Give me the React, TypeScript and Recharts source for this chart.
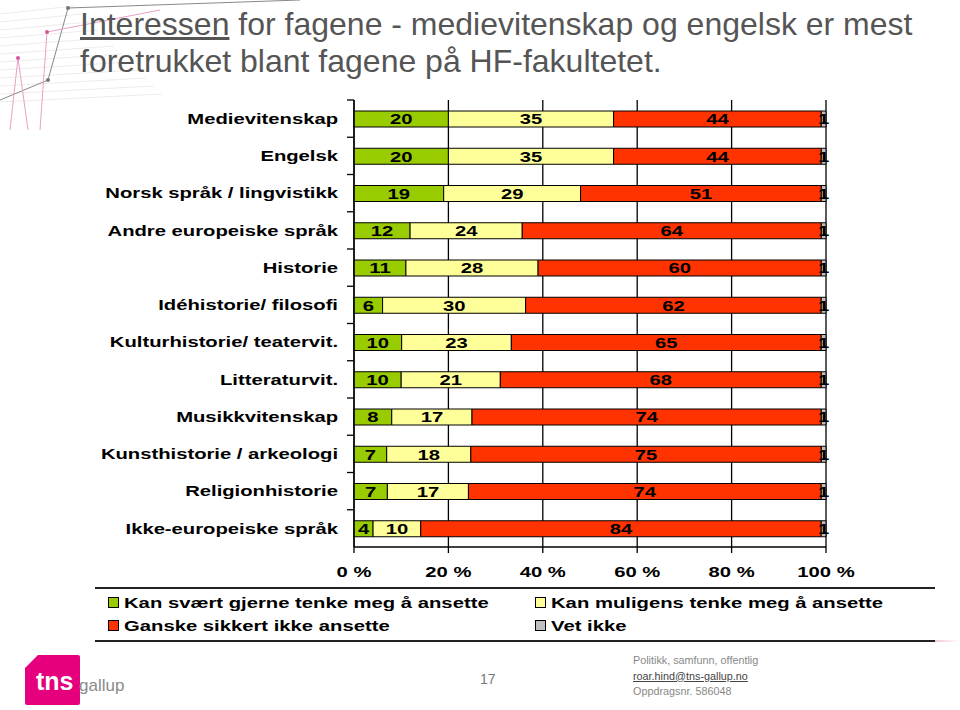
import React from "react";
import { Bar, BarChart, XAxis, YAxis, CartesianGrid, LabelList, Legend } from "recharts";

const categories = [
  "Medievitenskap",
  "Engelsk",
  "Norsk språk / lingvistikk",
  "Andre europeiske språk",
  "Historie",
  "Idéhistorie/ filosofi",
  "Kulturhistorie/ teatervit.",
  "Litteraturvit.",
  "Musikkvitenskap",
  "Kunsthistorie / arkeologi",
  "Religionhistorie",
  "Ikke-europeiske språk",
];

const kanSvaert = [20, 20, 19, 12, 11, 6, 10, 10, 8, 7, 7, 4];
const kanMuligens = [35, 35, 29, 24, 28, 30, 23, 21, 17, 18, 17, 10];
const ganskeSikkert = [44, 44, 51, 64, 60, 62, 65, 68, 74, 75, 74, 84];
const vetIkke = [1, 1, 1, 1, 1, 1, 1, 1, 1, 1, 1, 1];

const xTicks = [0, 0.2, 0.4, 0.6, 0.8, 1];

const seriesNames = [
  "Kan svært gjerne tenke meg å ansette",
  "Kan muligens tenke meg å ansette",
  "Ganske sikkert ikke ansette",
  "Vet ikke",
];

const data = categories.map((name, i) => ({
  name,
  a: kanSvaert[i],
  b: kanMuligens[i],
  c: ganskeSikkert[i],
  d: vetIkke[i],
}));

const W = 960;
const H = 710;
const PLOT_LEFT = 354;
const PLOT_RIGHT = 826;
const PLOT_TOP = 100;
const PLOT_BOTTOM = 547;
const X_AXIS_H = 30;
const FONT = "Arial, 'Liberation Sans', sans-serif";
// the original chart image is stretched sideways
const STRETCH = 1.35;

const bandHalf = (PLOT_BOTTOM - PLOT_TOP) / categories.length / 2;

function CategoryTick(props: any) {
  const { x, y, payload } = props;
  return (
    <g>
      <line x1={PLOT_LEFT - 7} x2={PLOT_LEFT} y1={y - bandHalf} y2={y - bandHalf} stroke="#000" strokeWidth={1.3} />
      <text
        transform={`translate(${x},${y}) scale(${STRETCH},1)`}
        dy="0.35em"
        textAnchor="end"
        fontSize={15}
        fontWeight="bold"
        fill="#000"
        fontFamily={FONT}
      >
        {payload.value}
      </text>
    </g>
  );
}

function PercentTick(props: any) {
  const { x, y, payload } = props;
  return (
    <text
      transform={`translate(${x},${y}) scale(${STRETCH},1)`}
      dy="0.71em"
      textAnchor="middle"
      fontSize={15}
      fontWeight="bold"
      fill="#000"
      fontFamily={FONT}
    >
      {`${Math.round(payload.value * 100)} %`}
    </text>
  );
}

function renderLabel(props: any) {
  const { x, y, width, height, value } = props;
  return (
    <text
      transform={`translate(${x + width / 2},${y + height / 2}) scale(${STRETCH},1)`}
      dy="0.36em"
      textAnchor="middle"
      fontSize={15}
      fontWeight="bold"
      fill="#000"
      fontFamily={FONT}
    >
      {value}
    </text>
  );
}

function LegendBox(props: any) {
  const payload = [...(props.payload || [])].sort(
    (p: any, q: any) => seriesNames.indexOf(p.value) - seriesNames.indexOf(q.value)
  );
  return (
    <div
      style={{
        display: "grid",
        gridTemplateColumns: "427px 400px",
        rowGap: 3,
        padding: "3px 0 0 13px",
        fontFamily: FONT,
        fontSize: 15,
        fontWeight: "bold",
        color: "#000",
      }}
    >
      {payload.map((p: any) => (
        <div key={p.value} style={{ display: "flex", alignItems: "center", height: 20, whiteSpace: "nowrap" }}>
          <span
            style={{
              display: "inline-block",
              width: 9,
              height: 9,
              background: p.color,
              border: "1px solid #000",
              marginRight: 5,
              flex: "none",
            }}
          />
          <span style={{ display: "inline-block", transform: `scaleX(${STRETCH})`, transformOrigin: "left center" }}>
            {p.value}
          </span>
        </div>
      ))}
    </div>
  );
}

export default function App() {
  return (
    <div style={{ position: "absolute", left: 0, top: 0, width: W, height: H, background: "#fff", overflow: "hidden" }}>
      {/* corner decoration */}
      <svg width={320} height={130} style={{ position: "absolute", left: 0, top: 0 }}>
        <g stroke="#ececec" strokeWidth={1}>
          {[14, 22, 30, 38, 46, 54, 62, 70, 78, 86, 94, 102].map((yy) => (
            <line key={yy} x1={0} x2={60 + yy} y1={yy} y2={yy - 8} />
          ))}
        </g>
        <polyline points="0,100 48,80 68,8 300,0" fill="none" stroke="#888" strokeWidth={1} />
        <polyline points="10,130 18,58 28,130" fill="none" stroke="#e8a0c4" strokeWidth={1} />
        <polyline points="40,130 47,32 160,10" fill="none" stroke="#e8a0c4" strokeWidth={1} />
        <circle cx={47} cy={32} r={2} fill="#d6559a" />
        <circle cx={18} cy={58} r={2} fill="#d6559a" />
        <circle cx={68} cy={8} r={2} fill="#777" />
        <circle cx={48} cy={80} r={2} fill="#777" />
      </svg>

      <div
        style={{
          position: "absolute",
          left: 80,
          top: 6,
          fontFamily: FONT,
          fontSize: 32,
          lineHeight: "37px",
          color: "#555",
          whiteSpace: "nowrap",
        }}
      >
        <span style={{ textDecoration: "underline" }}>Interessen</span> for fagene - medievitenskap og engelsk er mest
        <br />
        foretrukket blant fagene på HF-fakultetet.
      </div>

      <div style={{ position: "absolute", left: 0, top: 0 }}>
        <BarChart
          width={W}
          height={H}
          data={data}
          layout="vertical"
          stackOffset="expand"
          barSize={16}
          margin={{ top: PLOT_TOP, bottom: H - PLOT_BOTTOM - X_AXIS_H, left: 0, right: W - PLOT_RIGHT }}
        >
          <CartesianGrid horizontal={false} vertical stroke="#000" strokeWidth={1.3} />
          <XAxis
            type="number"
            domain={[0, 1]}
            ticks={xTicks}
            height={X_AXIS_H}
            stroke="#000"
            strokeWidth={1.3}
            tickSize={6}
            tickMargin={13}
            tick={<PercentTick />}
          />
          <YAxis
            type="category"
            dataKey="name"
            width={PLOT_LEFT}
            stroke="#000"
            strokeWidth={1.3}
            tickLine={false}
            tickSize={6}
            tickMargin={10}
            tick={<CategoryTick />}
            interval={0}
          />
          <Legend
            layout="horizontal"
            verticalAlign="middle"
            align="center"
            content={<LegendBox />}
            wrapperStyle={{
              position: "absolute",
              left: 95,
              top: 587,
              width: 840,
              height: 55,
              borderTop: "2px solid #222",
              borderBottom: "2px solid #222",
              boxSizing: "border-box",
            }}
          />
          <Bar dataKey="a" name={seriesNames[0]} stackId="s" fill="#99CC00" stroke="#000" strokeWidth={1} isAnimationActive={false}>
            <LabelList dataKey="a" content={renderLabel} />
          </Bar>
          <Bar dataKey="b" name={seriesNames[1]} stackId="s" fill="#FFFF99" stroke="#000" strokeWidth={1} isAnimationActive={false}>
            <LabelList dataKey="b" content={renderLabel} />
          </Bar>
          <Bar dataKey="c" name={seriesNames[2]} stackId="s" fill="#FF3300" stroke="#000" strokeWidth={1} isAnimationActive={false}>
            <LabelList dataKey="c" content={renderLabel} />
          </Bar>
          <Bar dataKey="d" name={seriesNames[3]} stackId="s" fill="#C0C0C0" stroke="#000" strokeWidth={1} isAnimationActive={false}>
            <LabelList dataKey="d" content={renderLabel} />
          </Bar>
        </BarChart>
      </div>

      {/* footer */}
      <div
        style={{
          position: "absolute",
          left: 935,
          top: 640,
          width: 25,
          height: 2,
          background: "linear-gradient(90deg, #f3c6dc, #fff)",
        }}
      />
      <svg width={130} height={60} style={{ position: "absolute", left: 0, top: 650 }}>
        <path d="M38,5 L78,5 Q80,5 80,7 L80,53 Q80,55 78,55 L27,55 Q25,55 25,53 L25,18 Z" fill="#E6007E" />
        <text x={36} y={40} fontFamily={FONT} fontWeight="bold" fontSize={25} fill="#fff">
          tns
        </text>
        <text x={79} y={41} fontFamily={FONT} fontSize={17} fill="#8a8a8a">
          gallup
        </text>
      </svg>
      <div style={{ position: "absolute", left: 480, top: 671, fontFamily: FONT, fontSize: 14, color: "#777" }}>17</div>
      <div
        style={{
          position: "absolute",
          left: 633,
          top: 653,
          fontFamily: FONT,
          fontSize: 10.8,
          lineHeight: "15.5px",
          color: "#888",
        }}
      >
        <div>Politikk, samfunn, offentlig</div>
        <div style={{ textDecoration: "underline", color: "#444" }}>roar.hind@tns-gallup.no</div>
        <div>Oppdragsnr. 586048</div>
      </div>
    </div>
  );
}
